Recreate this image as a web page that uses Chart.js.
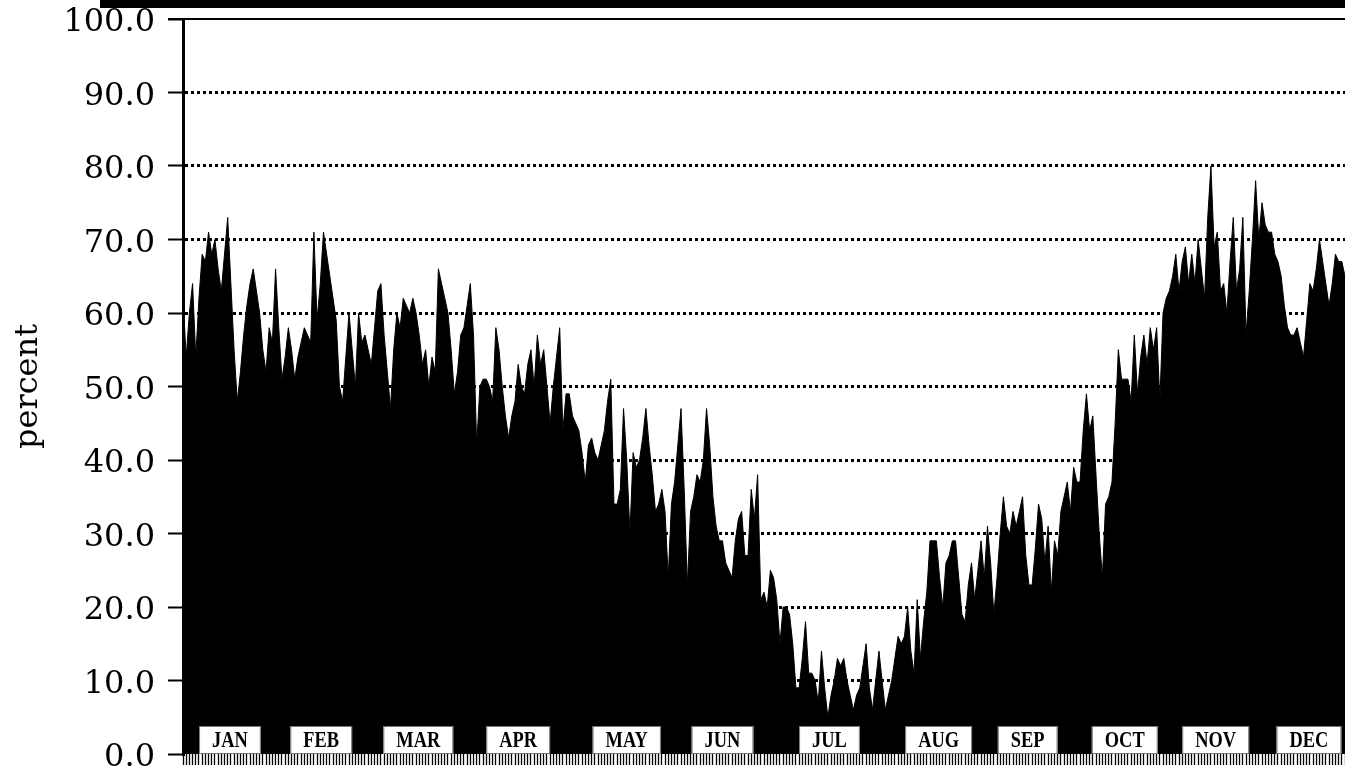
<!DOCTYPE html>
<html>
<head>
<meta charset="utf-8">
<script src="https://cdn.jsdelivr.net/npm/chart.js@4.4.0/dist/chart.umd.min.js"></script>
<style>
  html, body { margin: 0; padding: 0; background: #fff; }
  canvas { display: block; }
</style>
</head>
<body>
<canvas id="grafico" width="1345" height="774"></canvas>
<script>
const ctx = document.getElementById('grafico');

    // daily percent values, day 1 .. day 365
    let percentual = [
        62, 54, 60, 64, 54, 62, 68, 67, 71, 68,
        70, 66, 63, 68, 73, 64, 55, 48, 52, 57,
        61, 64, 66, 63, 60, 55, 52, 58, 56, 66,
        58, 51, 54, 58, 55, 51, 54, 56, 58, 57,
        56, 71, 59, 64, 71, 68, 65, 62, 59, 50,
        48, 54, 60, 55, 50, 60, 56, 57, 55, 53,
        58, 63, 64, 57, 52, 47, 55, 60, 58, 62,
        61, 60, 62, 60, 57, 53, 55, 50, 54, 52,
        66, 64, 62, 60, 55, 49, 52, 57, 58, 61,
        64, 57, 42, 50, 51, 51, 50, 48, 58, 55,
        50, 46, 43, 46, 48, 53, 50, 49, 53, 55,
        50, 57, 53, 55, 50, 45, 50, 54, 58, 44,
        49, 49, 46, 45, 44, 41, 37, 42, 43, 41,
        40, 42, 44, 48, 51, 34, 34, 36, 47, 40,
        30, 41, 39, 40, 43, 47, 42, 38, 33, 34,
        36, 33, 24, 34, 37, 42, 47, 36, 23, 33,
        35, 38, 37, 40, 47, 42, 35, 31, 29, 29,
        26, 25, 24, 29, 32, 33, 27, 27, 36, 32,
        38, 21, 22, 20, 25, 24, 21, 15, 20, 20,
        19, 15, 9, 9, 13, 18, 11, 11, 10, 7,
        14, 9, 5, 8, 10, 13, 12, 13, 10, 8,
        6, 8, 9, 12, 15, 9, 6, 10, 14, 10,
        6, 8, 10, 13, 16, 15, 16, 20, 14, 11,
        21, 13, 18, 22, 29, 29, 29, 24, 20, 26,
        27, 29, 29, 24, 19, 18, 23, 26, 21, 25,
        29, 24, 31, 26, 19, 24, 30, 35, 31, 30,
        33, 31, 33, 35, 27, 23, 23, 28, 34, 32,
        26, 31, 22, 29, 27, 33, 35, 37, 33, 39,
        37, 37, 44, 49, 44, 46, 38, 30, 24, 34,
        35, 37, 45, 55, 51, 51, 51, 48, 57, 49,
        54, 57, 53, 58, 55, 58, 48, 60, 62, 63,
        65, 68, 63, 67, 69, 64, 68, 64, 70, 66,
        62, 73, 80, 69, 71, 63, 64, 60, 67, 73,
        63, 66, 73, 57, 63, 70, 78, 70, 75, 72,
        71, 71, 68, 67, 65, 61, 58, 57, 57, 58,
        56, 54, 59, 64, 63, 66, 70, 67, 64, 61,
        64, 68, 67, 67, 65
    ]
    let dias = percentual.map((v, i) => i + 1)
    let meses = ["JAN", "FEB", "MAR", "APR", "MAY", "JUN", "JUL", "AUG", "SEP", "OCT", "NOV", "DEC"]
    let posicaoMes = [14.7, 43.3, 73.7, 105, 139, 169, 202.5, 236.7, 264.6, 295, 323.5, 352.7]

    // black bar at the top, top frame line and month boxes
    const moldura = {
        id: 'moldura',
        beforeDraw(chart) {
            const c = chart.ctx;
            c.save();
            c.fillStyle = '#fff';
            c.fillRect(0, 0, chart.width, chart.height);
            c.fillStyle = '#000';
            c.fillRect(100, 0, chart.width - 100, 8);
            c.restore();
        },
        afterDatasetsDraw(chart) {
            const c = chart.ctx;
            const area = chart.chartArea;
            const xs = chart.scales.x;
            c.save();
            c.strokeStyle = '#000';
            c.lineWidth = 2;
            c.beginPath();
            c.moveTo(area.left - 15, area.top);
            c.lineTo(area.right, area.top);
            c.stroke();

            c.font = 'bold 23px "Liberation Serif"';
            c.textAlign = 'center';
            c.textBaseline = 'middle';
            meses.forEach((m, i) => {
                const x = xs.getPixelForValue(posicaoMes[i]);
                const w = c.measureText(m).width * 0.8 + 26;
                const h = 28;
                const top = area.bottom - 28;
                c.fillStyle = '#fff';
                c.fillRect(x - w / 2, top, w, h);
                c.strokeStyle = '#777';
                c.lineWidth = 1;
                c.strokeRect(x - w / 2 + 0.5, top + 0.5, w - 1, h - 1);
                c.save();
                c.translate(x, top + h / 2 + 1);
                c.scale(0.8, 1);
                c.fillStyle = '#000';
                c.fillText(m, 0, 0);
                c.restore();
            });
            c.restore();
        }
    };

    new Chart(ctx, {
        type: 'line',
        data: {
            labels: dias,
            datasets: [{
                label: 'percent',
                data: percentual,
                fill: 'origin',
                backgroundColor: '#000',
                borderColor: '#000',
                borderWidth: 1,
                pointRadius: 0,
                tension: 0
            }]
        },
        options: {
            responsive: false,
            animation: false,
            layout: {
                padding: { top: 19, right: 0, bottom: 0, left: 0 }
            },
            plugins: {
                legend: { display: false },
                tooltip: { enabled: false }
            },
            scales: {
                x: {
                    ticks: {
                        autoSkip: false,
                        maxRotation: 0,
                        font: { size: 1 },
                        callback: () => ''
                    },
                    grid: {
                        drawOnChartArea: false,
                        drawTicks: true,
                        tickLength: 11,
                        tickColor: '#000',
                        tickWidth: 1.3
                    },
                    border: { display: false },
                    afterFit(scale) {
                        scale.height = 20;
                        scale.paddingLeft = 0;
                        scale.paddingRight = 0;
                    }
                },
                y: {
                    min: 0,
                    max: 100,
                    ticks: {
                        stepSize: 5,
                        color: '#000',
                        padding: 13,
                        labelOffset: 4,
                        font: { family: '"DejaVu Serif"', size: 32 },
                        callback: (v) => v % 10 === 0 ? v.toFixed(1) : ''
                    },
                    grid: {
                        color: (c) => (c.tick && c.tick.value % 10 === 0 && c.tick.value > 0 && c.tick.value < 100) ? '#000' : 'rgba(0,0,0,0)',
                        lineWidth: 3,
                        tickLength: 15,
                        tickColor: '#000',
                        tickWidth: 2,
                        tickBorderDash: []
                    },
                    border: {
                        display: true,
                        color: '#000',
                        width: 3,
                        dash: [3, 3]
                    },
                    title: {
                        display: true,
                        text: 'percent',
                        color: '#000',
                        font: { family: '"DejaVu Serif"', size: 32 },
                        padding: { top: 9, bottom: 0 }
                    },
                    afterFit(scale) {
                        scale.width = 183;
                        scale.paddingTop = 0;
                        scale.paddingBottom = 0;
                    }
                }
            }
        },
        plugins: [moldura]
    });
</script>
</body>
</html>
